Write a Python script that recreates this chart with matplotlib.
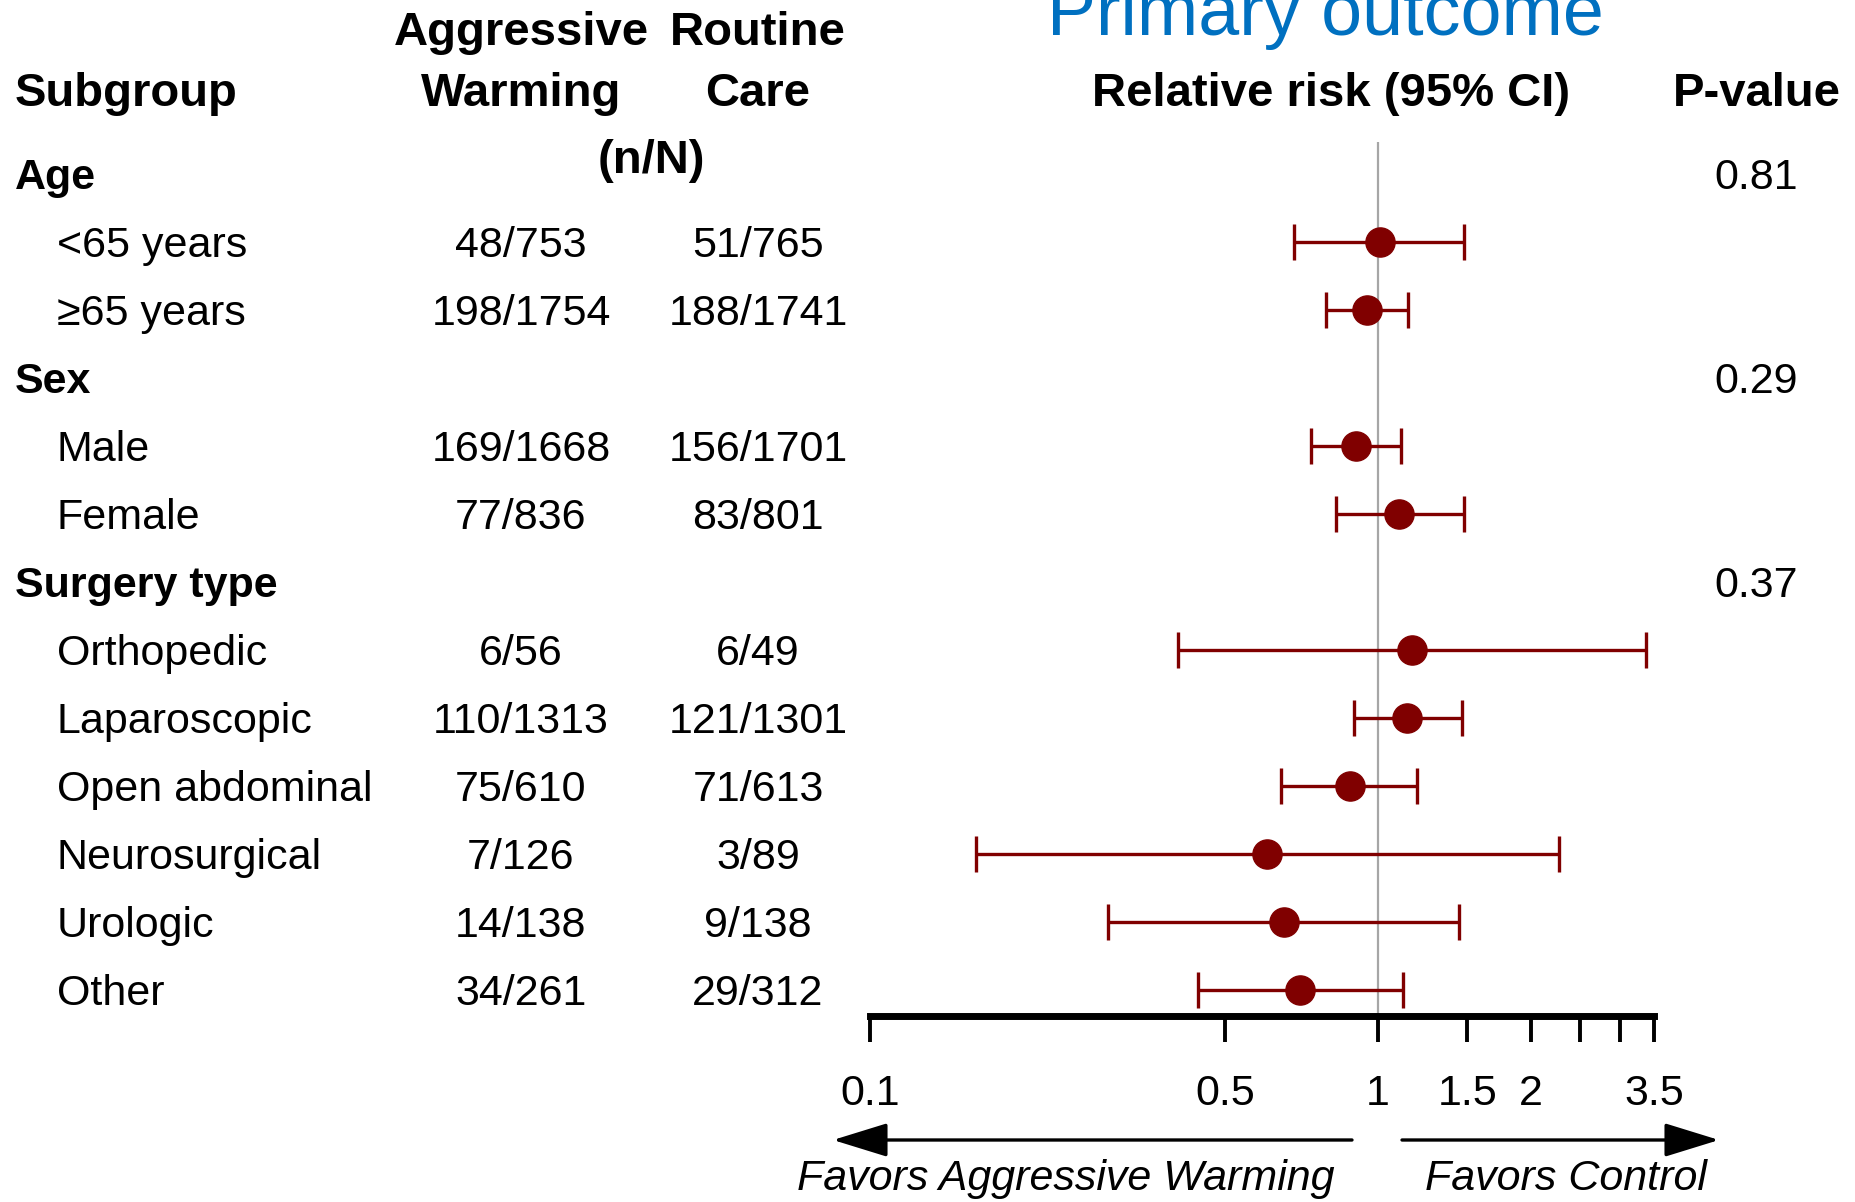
import matplotlib
matplotlib.use("Agg")
import matplotlib.pyplot as plt

plt.rcParams["font.family"] = ["Liberation Sans", "DejaVu Sans"]

groups = ["Age", "Sex", "Surgery type"]
group_pvalues = ["0.81", "0.29", "0.37"]
subgroups = ["<65 years", "≥65 years", "Male", "Female", "Orthopedic", "Laparoscopic",
             "Open abdominal", "Neurosurgical", "Urologic", "Other"]
subgroup_group = [0, 0, 1, 1, 2, 2, 2, 2, 2, 2]
warming = ["48/753", "198/1754", "169/1668", "77/836", "6/56", "110/1313",
           "75/610", "7/126", "14/138", "34/261"]
routine = ["51/765", "188/1741", "156/1701", "83/801", "6/49", "121/1301",
           "71/613", "3/89", "9/138", "29/312"]
rr = [1.01, 0.954, 0.906, 1.10, 1.168, 1.143, 0.880, 0.604, 0.654, 0.703]
ci_low = [0.684, 0.792, 0.738, 0.826, 0.405, 0.897, 0.646, 0.162, 0.294, 0.443]
ci_high = [1.48, 1.148, 1.113, 1.48, 3.37, 1.467, 1.194, 2.27, 1.447, 1.119]
ticks = [0.1, 0.5, 1, 1.5, 2, 2.5, 3, 3.5]
tick_labels = ["0.1", "0.5", "1", "1.5", "2", "", "", "3.5"]

W, H = 1856, 1202
fig = plt.figure(figsize=(W / 100, H / 100), dpi=100)


def fx(x):
    return x / W


def fy(y):
    return 1 - y / H


# row layout: group header followed by its subgroups
row_top, row_step = 174, 68
group_rows = []
sub_rows = []
r = 0
for g in range(len(groups)):
    group_rows.append(r)
    r += 1
    for i, sg in enumerate(subgroup_group):
        if sg == g:
            sub_rows.append(r)
            r += 1

# forest plot axes
ax_top, ax_bottom = 142, 1016
ax = fig.add_axes([fx(870), fy(ax_bottom), fx(1654 - 870), (ax_bottom - ax_top) / H])
ax.set_xscale("log")
ax.set_xlim(0.1, 3.5)
ax.set_ylim((ax_bottom - row_top) / row_step, (ax_top - row_top) / row_step)
for s in ["top", "right", "left"]:
    ax.spines[s].set_visible(False)
ax.spines["bottom"].set_linewidth(5)
ax.set_yticks([])
ax.set_xticks(ticks)
ax.set_xticklabels(tick_labels, fontsize=31)
ax.xaxis.set_minor_locator(matplotlib.ticker.NullLocator())
ax.tick_params(axis="x", length=19, width=2.8, pad=23, direction="out")
ax.patch.set_visible(False)

ax.axvline(1, color="#a6a6a6", lw=1.6, zorder=1)
xerr = [[v - lo for v, lo in zip(rr, ci_low)], [hi - v for v, hi in zip(rr, ci_high)]]
ax.errorbar(rr, sub_rows, xerr=xerr, fmt="o", color="#800000", ms=21,
            elinewidth=2.4, capsize=13, capthick=2.4, zorder=3)

# headers
fig.text(fx(1325), fy(35), "Primary outcome", fontsize=53, color="#0070c0", ha="center", va="baseline")
hdr = dict(fontsize=34, fontweight="bold", va="baseline")
fig.text(fx(15), fy(106), "Subgroup", ha="left", **hdr)
fig.text(fx(521), fy(45), "Aggressive", ha="center", **hdr)
fig.text(fx(521), fy(106), "Warming", ha="center", **hdr)
fig.text(fx(758), fy(45), "Routine", ha="center", **hdr)
fig.text(fx(758), fy(106), "Care", ha="center", **hdr)
fig.text(fx(651), fy(173), "(n/N)", ha="center", **hdr)
fig.text(fx(1331), fy(106), "Relative risk (95% CI)", ha="center", **hdr)
fig.text(fx(1757), fy(106), "P-value", ha="center", **hdr)

# table rows
for g, row in enumerate(group_rows):
    yb = row_top + row * row_step + 15
    fig.text(fx(15), fy(yb), groups[g], fontsize=31, fontweight="bold", va="baseline")
    fig.text(fx(1756), fy(yb), group_pvalues[g], fontsize=31, ha="center", va="baseline")
for i, row in enumerate(sub_rows):
    yb = row_top + row * row_step + 15
    fig.text(fx(57), fy(yb), subgroups[i], fontsize=31, va="baseline")
    fig.text(fx(521), fy(yb), warming[i], fontsize=31, ha="center", va="baseline")
    fig.text(fx(758), fy(yb), routine[i], fontsize=31, ha="center", va="baseline")

# direction arrows
arrow = dict(arrowstyle="-|>,head_length=3.4,head_width=1.05", color="black", lw=2.4,
             shrinkA=0, shrinkB=0, mutation_scale=10)
fig.add_artist(matplotlib.patches.FancyArrowPatch((fx(1352), fy(1140)), (fx(833), fy(1140)),
                                                  transform=fig.transFigure, **arrow))
fig.add_artist(matplotlib.patches.FancyArrowPatch((fx(1402), fy(1140)), (fx(1719), fy(1140)),
                                                  transform=fig.transFigure, **arrow))
fig.text(fx(1335), fy(1190), "Favors Aggressive Warming", fontsize=31, style="italic",
         ha="right", va="baseline")
fig.text(fx(1425), fy(1190), "Favors Control", fontsize=31, style="italic",
         ha="left", va="baseline")

fig.savefig("out.png", dpi=100)
